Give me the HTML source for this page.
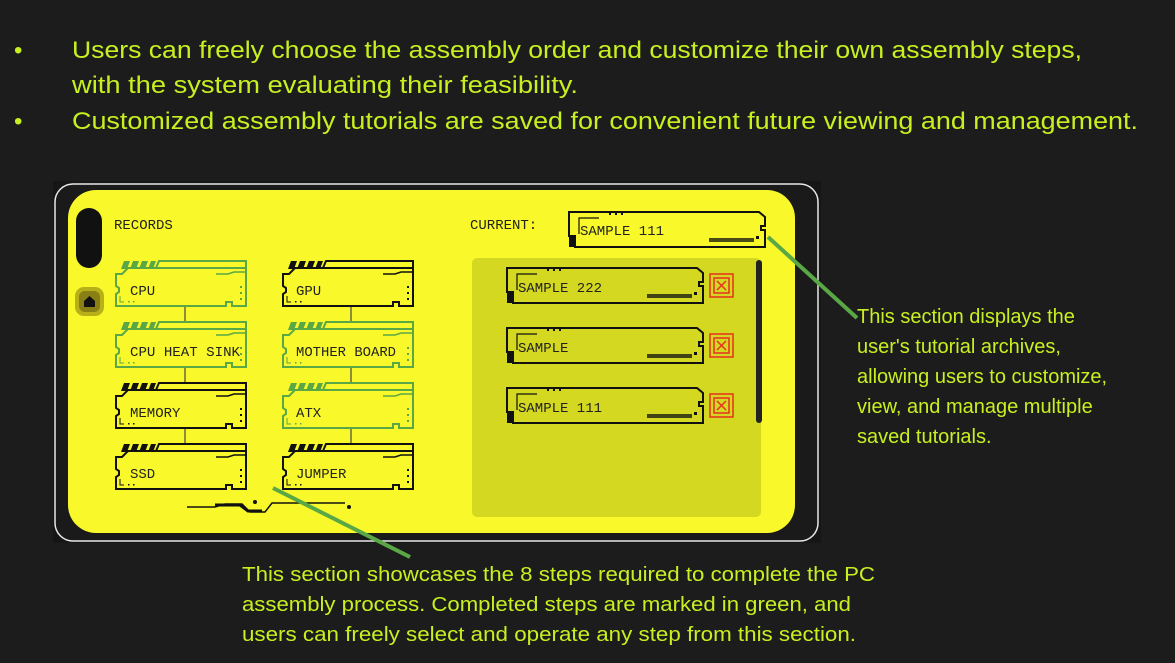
<!DOCTYPE html>
<html><head><meta charset="utf-8"><style>
html,body{margin:0;padding:0;background:#1c1c1c;}
svg{display:block}
.t{font-family:"Liberation Sans","DejaVu Sans",sans-serif;fill:#c8f020;}
.m{font-family:"Liberation Mono","DejaVu Sans Mono",monospace;font-size:14px;}
</style></head><body>
<svg width="1175" height="663" viewBox="0 0 1175 663" xmlns="http://www.w3.org/2000/svg">
<rect width="1175" height="663" fill="#1c1c1c"/>
<g class="t" font-size="24">
<text x="14" y="58">•</text>
<text x="72" y="58" textLength="1010" lengthAdjust="spacingAndGlyphs">Users can freely choose the assembly order and customize their own assembly steps,</text>
<text x="72" y="93" textLength="506" lengthAdjust="spacingAndGlyphs">with the system evaluating their feasibility.</text>
<text x="14" y="129">•</text>
<text x="72" y="129" textLength="1066" lengthAdjust="spacingAndGlyphs">Customized assembly tutorials are saved for convenient future viewing and management.</text>
</g>
<rect x="53" y="181" width="768" height="362" fill="#161616"/>
<rect x="55" y="184" width="763" height="357" rx="18" fill="#1a1a1a" stroke="#e8e8e8" stroke-width="1.5"/>
<rect x="68" y="190" width="727" height="343" rx="28" fill="#f8f82a"/>
<rect x="76" y="208" width="26" height="60" rx="13" fill="#111"/>
<rect x="75" y="287" width="29" height="29" rx="9" fill="#b8b018"/>
<rect x="79" y="291" width="21" height="21" rx="6" fill="#888014"/>
<path d="M84 307v-6l5.5-5 5.5 5v6z" fill="#111"/>
<text x="114" y="229" class="m" fill="#222">RECORDS</text>
<defs>
<g id="card">
<path d="M0 12 H6 L12 6 H130 V44 H116 V40 H110 V44 H0 V32 L3 30 V26 L0 24 Z" fill="none" stroke-width="2"/>
<path d="M40 6 L43 -1 H130 V6" fill="none" stroke-width="2"/>
<path d="M100 12 H112 L118 10 H130" fill="none" stroke-width="1.5"/>
<path d="M5 7 L8 -1 H14 L11 7Z M14 7 L17 -1 H23 L20 7Z M23 7 L26 -1 H32 L29 7Z M32 7 L35 -1 H40 L37 7Z" stroke="none"/>
<path d="M4 34 V40 H8" fill="none" stroke-width="1"/>
<rect x="12" y="39" width="1.5" height="1.5" stroke="none"/><rect x="17" y="39" width="1.5" height="1.5" stroke="none"/>
<rect x="124" y="24" width="2" height="2" stroke="none"/><rect x="124" y="30" width="2" height="2" stroke="none"/><rect x="124" y="36" width="2" height="2" stroke="none"/>
</g>
<g id="sc">
<path d="M0 0 H190 L196 5 V14 H192 V18 H196 V35 H6 V24 H0 Z" fill="none" stroke="#111" stroke-width="2"/>
<path d="M10 22 V6 H30" fill="none" stroke="#111" stroke-width="1.2"/>
<rect x="0" y="24" width="6" height="11" fill="#111"/>
<rect x="40" y="1" width="2" height="2" fill="#111"/><rect x="46" y="1" width="2" height="2" fill="#111"/><rect x="52" y="1" width="2" height="2" fill="#111"/>
<rect x="140" y="26" width="45" height="4" fill="#111" opacity=".75"/>
<rect x="187" y="24" width="3" height="3" fill="#111"/>
</g>
</defs>
<g stroke="#5aa845" fill="#5aa845"><use href="#card" x="116" y="262"/><use href="#card" x="116" y="323"/><use href="#card" x="283" y="323"/><use href="#card" x="283" y="384"/></g>
<g stroke="#111" fill="#111"><use href="#card" x="283" y="262"/><use href="#card" x="116" y="384"/><use href="#card" x="116" y="445"/><use href="#card" x="283" y="445"/></g>
<g class="m" fill="#222">
<text x="130" y="295">CPU</text><text x="296" y="295">GPU</text>
<text x="130" y="356" textLength="110" lengthAdjust="spacingAndGlyphs">CPU HEAT SINK</text><text x="296" y="356" textLength="100" lengthAdjust="spacingAndGlyphs">MOTHER BOARD</text>
<text x="130" y="417">MEMORY</text><text x="296" y="417">ATX</text>
<text x="130" y="478">SSD</text><text x="296" y="478">JUMPER</text>
</g>
<g stroke="#444" stroke-width="1.2" fill="none">
<path d="M185 307v14M185 368v14M185 429v14M351 307v14M351 368v14M351 429v14"/>
</g>
<path d="M187 507 H215 L225 504 H242 L250 512 H265 L272 503 H345" fill="none" stroke="#111" stroke-width="1.5"/>
<path d="M215 505 H240 L248 511 H262" fill="none" stroke="#111" stroke-width="3"/>
<circle cx="255" cy="502" r="2" fill="#111"/><circle cx="349" cy="507" r="2" fill="#111"/>
<text x="470" y="229" class="m" fill="#222">CURRENT:</text>
<rect x="472" y="258" width="289" height="259" rx="5" fill="#d4d820"/>
<rect x="756" y="260" width="6" height="163" rx="3" fill="#222"/>
<use href="#sc" x="569" y="212"/>
<text x="580" y="235" class="m" fill="#222" font-size="15">SAMPLE 111</text>
<use href="#sc" x="507" y="268"/><use href="#sc" x="507" y="328"/><use href="#sc" x="507" y="388"/>
<g class="m" fill="#222" font-size="15"><text x="518" y="292">SAMPLE 222</text><text x="518" y="352">SAMPLE</text><text x="518" y="412">SAMPLE 111</text></g>
<g fill="none" stroke="#e83020" stroke-width="1.5">
<rect x="710" y="274" width="23" height="23"/><rect x="714" y="278" width="15" height="15"/><path d="M717 281l9 9M726 281l-9 9"/>
<rect x="710" y="334" width="23" height="23"/><rect x="714" y="338" width="15" height="15"/><path d="M717 341l9 9M726 341l-9 9"/>
<rect x="710" y="394" width="23" height="23"/><rect x="714" y="398" width="15" height="15"/><path d="M717 401l9 9M726 401l-9 9"/>
</g>
<path d="M768 237 L857 318" stroke="#5aa845" stroke-width="4"/>
<path d="M273 488 L410 557" stroke="#5aa845" stroke-width="4"/>
<g class="t" font-size="20">
<text x="857" y="323">This section displays the</text>
<text x="857" y="353">user's tutorial archives,</text>
<text x="857" y="383">allowing users to customize,</text>
<text x="857" y="413">view, and manage multiple</text>
<text x="857" y="443">saved tutorials.</text>
<text x="242" y="581" textLength="633" lengthAdjust="spacingAndGlyphs">This section showcases the 8 steps required to complete the PC</text>
<text x="242" y="611" textLength="609" lengthAdjust="spacingAndGlyphs">assembly process. Completed steps are marked in green, and</text>
<text x="242" y="641" textLength="614" lengthAdjust="spacingAndGlyphs">users can freely select and operate any step from this section.</text>
</g>
</svg>
</body></html>
